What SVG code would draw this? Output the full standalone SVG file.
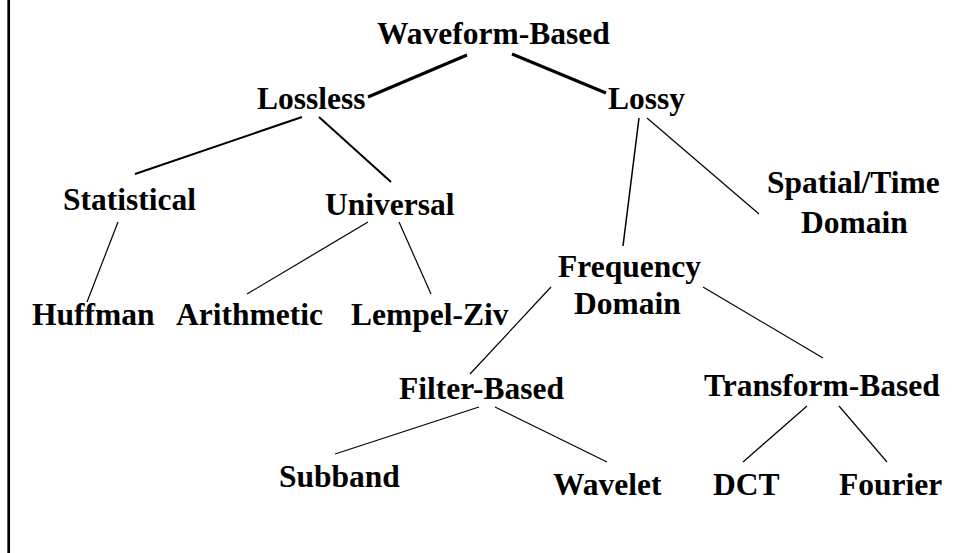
<svg xmlns="http://www.w3.org/2000/svg" width="959" height="553" viewBox="0 0 959 553">
<style>
  text { font-family: "Liberation Serif", "Times New Roman", serif; font-weight: bold; font-size: 31.5px; fill: #000; }
  .c line { stroke: #000; stroke-linecap: butt; }
  .w3 { stroke-width: 3; }
  .w2 { stroke-width: 2; }
  .w15 { stroke-width: 1.5; }
  .w1 { stroke-width: 1.2; }
</style>
<rect x="0" y="0" width="959" height="553" fill="#fff"/>
<line x1="8.7" y1="0" x2="8.7" y2="553" stroke="#000" stroke-width="2.7"/>
<g class="c" id="connectors">
  <line class="w3" x1="467" y1="55" x2="368" y2="97"/>
  <line class="w3" x1="512" y1="54" x2="606" y2="93"/>
  <line class="w2" x1="302" y1="117" x2="135" y2="174"/>
  <line class="w2" x1="319" y1="117" x2="391" y2="182"/>
  <line class="w15" x1="639" y1="118" x2="623" y2="246"/>
  <line class="w1" x1="647" y1="118" x2="759" y2="214"/>
  <line class="w1" x1="118" y1="222" x2="87" y2="302"/>
  <line class="w1" x1="368" y1="222" x2="247" y2="294"/>
  <line class="w1" x1="399" y1="222" x2="431" y2="294"/>
  <line class="w1" x1="551" y1="287" x2="470" y2="374"/>
  <line class="w1" x1="703" y1="287" x2="823" y2="358"/>
  <line class="w1" x1="479" y1="407" x2="335" y2="454"/>
  <line class="w1" x1="495" y1="407" x2="607" y2="462"/>
  <line class="w1" x1="807" y1="406" x2="743" y2="462"/>
  <line class="w1" x1="839" y1="406" x2="887" y2="462"/>
</g>
<g id="waveform"><text x="377" y="44">Waveform-Based</text></g>
<g id="lossless"><text x="257" y="109">Lossless</text></g>
<g id="lossy"><text x="608" y="109">Lossy</text></g>
<g id="statistical"><text x="63" y="210">Statistical</text></g>
<g id="universal"><text x="325" y="215">Universal</text></g>
<g id="huffman"><text x="32" y="325">Huffman</text></g>
<g id="arithmetic"><text x="176" y="325">Arithmetic</text></g>
<g id="lempelziv"><text x="351" y="325">Lempel-Ziv</text></g>
<g id="spatial"><text x="767" y="193">Spatial/Time</text><text x="801" y="233">Domain</text></g>
<g id="frequency"><text x="558" y="277">Frequency</text><text x="574" y="314">Domain</text></g>
<g id="filter"><text x="399" y="399">Filter-Based</text></g>
<g id="transform"><text x="704" y="396">Transform-Based</text></g>
<g id="subband"><text x="279" y="487">Subband</text></g>
<g id="wavelet"><text x="553" y="495">Wavelet</text></g>
<g id="dct"><text x="713" y="495">DCT</text></g>
<g id="fourier"><text x="839" y="495">Fourier</text></g>
</svg>
